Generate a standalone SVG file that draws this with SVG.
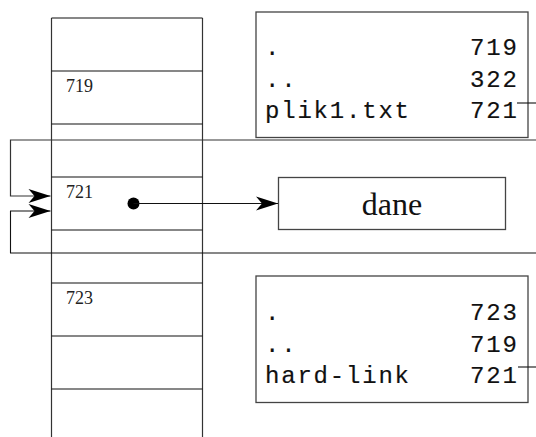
<svg xmlns="http://www.w3.org/2000/svg" width="536" height="437" viewBox="0 0 536 437">
<style>
.ln{stroke:#333;stroke-width:1.2;fill:none}
.sep{stroke:#111;stroke-width:1.1;fill:none}
.box{stroke:#444;stroke-width:1.3;fill:#fff}
.tt{font-family:"Liberation Mono",monospace;font-size:24px;letter-spacing:1.8px;fill:#111;stroke:#111;stroke-width:0.15}
.lbl{font-family:"Liberation Serif",serif;font-size:18px;fill:#222}
.big{font-family:"Liberation Serif",serif;font-size:32px;fill:#111}
.con{stroke:#111;stroke-width:1.1;fill:none}
</style>
<defs>
<marker id="stealth" viewBox="-23 -8 24 16" refX="0" refY="0" markerWidth="24" markerHeight="16" markerUnits="userSpaceOnUse" orient="auto">
<path d="M0,0 L-22,-7 L-16,0 L-22,7 Z" fill="#000"/>
</marker>
</defs>
<rect width="536" height="437" fill="#fff"/>
<g id="inode-table">
<line class="ln" x1="51.5" y1="18" x2="51.5" y2="437"/>
<line class="ln" x1="202.5" y1="18" x2="202.5" y2="437"/>
<line class="sep" x1="51.5" y1="18" x2="202.5" y2="18"/>
<line class="sep" x1="51.5" y1="71" x2="202.5" y2="71"/>
<line class="sep" x1="51.5" y1="124" x2="202.5" y2="124"/>
<line class="sep" x1="51.5" y1="177" x2="202.5" y2="177"/>
<line class="sep" x1="51.5" y1="230" x2="202.5" y2="230"/>
<line class="sep" x1="51.5" y1="283" x2="202.5" y2="283"/>
<line class="sep" x1="51.5" y1="336" x2="202.5" y2="336"/>
<line class="sep" x1="51.5" y1="389" x2="202.5" y2="389"/>
<text class="lbl" x="66" y="91.5">719</text>
<text class="lbl" x="66" y="197.5">721</text>
<text class="lbl" x="66" y="303.5">723</text>
</g>
<g id="dir-top">
<rect class="box" x="256" y="12" width="272" height="125.5"/>
<text class="tt" x="265" y="55">.</text>
<text class="tt" x="470" y="55">719</text>
<text class="tt" x="265" y="87">..</text>
<text class="tt" x="470" y="87">322</text>
<text class="tt" x="265" y="118">plik1.txt</text>
<text class="tt" x="470" y="118">721</text>
</g>
<g id="dir-bottom">
<rect class="box" x="256" y="276" width="272" height="126.5"/>
<text class="tt" x="265" y="320">.</text>
<text class="tt" x="470" y="320">723</text>
<text class="tt" x="265" y="352">..</text>
<text class="tt" x="470" y="352">719</text>
<text class="tt" x="265" y="383">hard-link</text>
<text class="tt" x="470" y="383">721</text>
</g>
<g id="dane">
<rect class="box" x="278.5" y="177.5" width="227" height="52"/>
<text class="big" x="392" y="215" text-anchor="middle">dane</text>
</g>
<g id="connectors">
<line class="con" x1="517" y1="103" x2="536" y2="103"/>
<line class="con" x1="518" y1="367" x2="536" y2="367"/>
<polyline class="ln" points="536,140 10.5,140 10.5,196 50.5,196" marker-end="url(#stealth)"/>
<polyline class="con" points="536,253 10.5,253 10.5,211 50.5,211" marker-end="url(#stealth)"/>
<circle cx="133.5" cy="203.5" r="6" fill="#000"/>
<line class="con" x1="133.5" y1="203.5" x2="278" y2="203.5" marker-end="url(#stealth)"/>
</g>
</svg>
